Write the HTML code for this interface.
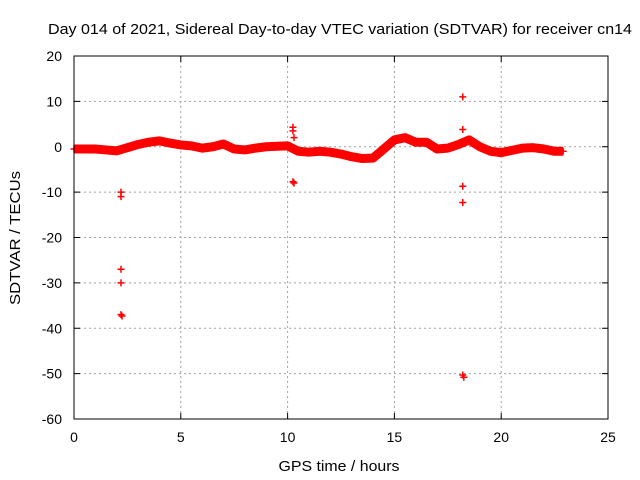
<!DOCTYPE html>
<html><head><meta charset="utf-8"><style>
body{margin:0;background:#fff}
svg{display:block;font-family:"Liberation Sans",sans-serif}
</style></head><body>
<svg id="c" width="640" height="480">
<rect width="640" height="480" fill="#fff"/>
<text x="340" y="34" font-size="15" text-anchor="middle" textLength="584" lengthAdjust="spacingAndGlyphs">Day 014 of 2021, Sidereal Day-to-day VTEC variation (SDTVAR) for receiver cn14</text>
<text x="339" y="471" font-size="15" text-anchor="middle" textLength="121" lengthAdjust="spacingAndGlyphs">GPS time / hours</text>
<text transform="translate(20,238) rotate(-90)" font-size="15" text-anchor="middle" textLength="134" lengthAdjust="spacingAndGlyphs">SDTVAR / TECUs</text>
<g id="grid"></g><g id="ticks"></g><g id="marks"></g>
<rect x="74" y="56" width="534" height="363" fill="none" stroke="#000" stroke-width="1"/>
</svg>
<script>
const xTicks=[0,5,10,15,20,25];
const yTicks=[20,10,0,-10,-20,-30,-40,-50,-60];
const bandX=[0,0.5,1,1.5,2,2.5,3,3.5,4,4.5,5,5.5,6,6.5,7,7.5,8,8.5,9,9.5,10,10.5,11,11.5,12,12.5,13,13.5,14,14.5,15,15.5,16,16.5,17,17.5,18,18.5,19,19.5,20,20.5,21,21.5,22,22.5,22.9];
const bandY=[-0.5,-0.5,-0.5,-0.7,-0.9,-0.2,0.5,1,1.3,0.8,0.4,0.2,-0.3,0,0.6,-0.5,-0.7,-0.3,0,0.1,0.2,-1,-1.2,-1,-1.2,-1.6,-2.2,-2.6,-2.5,-0.5,1.5,2,1,1,-0.5,-0.3,0.5,1.5,0,-1,-1.3,-0.8,-0.3,-0.2,-0.5,-1,-1];
const outX=[2.2,2.2,2.2,2.2,2.2,2.25,10.25,10.25,10.3,10.25,10.3,18.2,18.2,18.2,18.2,18.2,18.25];
const outY=[-10,-11,-27,-30,-37,-37.3,4.3,3.5,2,-7.7,-8,11,3.8,-8.7,-12.3,-50.3,-50.8];
const X=v=>74+v*(534/25), Y=v=>56+(20-v)*(363/80);
const NS="http://www.w3.org/2000/svg";
function mk(t,a,p){const e=document.createElementNS(NS,t);for(const k in a)e.setAttribute(k,a[k]);p.appendChild(e);return e;}
const g=document.getElementById('grid'),tk=document.getElementById('ticks'),m=document.getElementById('marks');
xTicks.forEach(v=>{
 if(v>0&&v<25){const l=mk('line',{x1:X(v),x2:X(v),y1:56,y2:419,stroke:'#a0a0a0','stroke-dasharray':'2,3'},g);
 
 }
 mk('line',{x1:X(v),x2:X(v),y1:419,y2:413,stroke:'#000'},tk);mk('line',{x1:X(v),x2:X(v),y1:56,y2:62,stroke:'#000'},tk);
 const t=mk('text',{x:X(v),y:442,'font-size':14,'text-anchor':'middle'},tk);t.textContent=v;
 
 
});
yTicks.forEach(v=>{
 if(v<20&&v>-60){const l=mk('line',{x1:74,x2:608,y1:Y(v),y2:Y(v),stroke:'#a0a0a0','stroke-dasharray':'2,3'},g);
 
 }
 mk('line',{x1:74,x2:80,y1:Y(v),y2:Y(v),stroke:'#000'},tk);mk('line',{x1:602,x2:608,y1:Y(v),y2:Y(v),stroke:'#000'},tk);
 const t=mk('text',{x:62,y:Y(v)+5,'font-size':14,'text-anchor':'end'},tk);t.textContent=v;
 
 
});
const band=mk('polyline',{points:bandX.map((x,i)=>X(x)+','+Y(bandY[i])).join(' '),fill:'none',stroke:'#f00','stroke-width':9,'stroke-linejoin':'round'},m);


function plus(x,y){const p=mk('path',{d:`M${X(x)-3.5},${Y(y)}h7M${X(x)},${Y(y)-3.5}v7`,stroke:'#f00','stroke-width':1.5,fill:'none'},m);
 
 }
bandX.forEach((x,i)=>plus(x,bandY[i]));
outX.forEach((x,i)=>plus(x,outY[i]));
</script>
</body></html>
